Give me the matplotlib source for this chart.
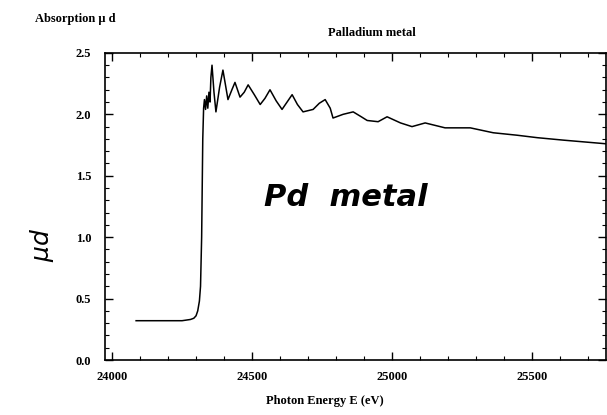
import matplotlib
matplotlib.use('Agg')
import matplotlib.pyplot as plt
from matplotlib.ticker import MultipleLocator

# Pd K-edge absorption
energy = [24086, 24150, 24200, 24250, 24280, 24292, 24300, 24306, 24312, 24316,
          24320, 24324, 24327, 24330, 24334, 24338, 24342, 24346, 24350, 24353,
          24357, 24364, 24371, 24384, 24396, 24405, 24414, 24428, 24439, 24448,
          24457, 24472, 24486, 24508, 24529, 24546, 24564, 24586, 24607, 24625,
          24643, 24662, 24682, 24700, 24718, 24740, 24761, 24779, 24789, 24825,
          24861, 24890, 24911, 24950, 24982, 25030, 25071, 25118, 25189, 25279,
          25361, 25446, 25518, 25611, 25765]
mu_d = [0.32, 0.32, 0.32, 0.32, 0.33, 0.34, 0.36, 0.40, 0.48, 0.60,
        1.00, 1.80, 2.05, 2.12, 2.04, 2.15, 2.05, 2.18, 2.10, 2.30,
        2.40, 2.18, 2.02, 2.22, 2.36, 2.24, 2.12, 2.20, 2.26, 2.20,
        2.14, 2.18, 2.24, 2.16, 2.08, 2.13, 2.20, 2.11, 2.04, 2.10,
        2.16, 2.08, 2.02, 2.03, 2.04, 2.09, 2.12, 2.05, 1.97, 2.00,
        2.02, 1.98, 1.95, 1.94, 1.98, 1.93, 1.90, 1.93, 1.89, 1.89,
        1.85, 1.83, 1.81, 1.79, 1.76]

xticks = [24000, 24500, 25000, 25500]
yticks = [0.0, 0.5, 1.0, 1.5, 2.0, 2.5]

serif = 'Liberation Serif'

fig = plt.figure(figsize=(6.07, 4.15), dpi=100)
ax = fig.add_axes([0.173, 0.1325, 0.826, 0.74])
ax.plot(energy, mu_d, color='black', lw=1.1)

ax.set_xlim(23975, 25765)
ax.set_ylim(0, 2.5)
ax.set_xticks(xticks)
ax.set_yticks(yticks)
ax.set_xticklabels([str(t) for t in xticks], family=serif, fontsize=9, fontweight='bold')
ax.set_yticklabels(['%.1f' % t for t in yticks], family=serif, fontsize=9, fontweight='bold')
ax.xaxis.set_minor_locator(MultipleLocator(100))
ax.yaxis.set_minor_locator(MultipleLocator(0.1))
ax.tick_params(which='both', direction='in', top=True, right=True)
ax.tick_params(which='major', length=6, width=1)
ax.tick_params(which='minor', length=3, width=0.8)
ax.tick_params(axis='x', pad=8)
ax.tick_params(axis='y', pad=10)
for s in ax.spines.values():
    s.set_linewidth(1.2)

fig.text(0.058, 0.955, 'Absorption \u03bc d', family=serif, fontsize=9, fontweight='bold',
         va='center')
fig.text(0.613, 0.92, 'Palladium metal', family=serif, fontsize=9, fontweight='bold',
         ha='center', va='center')
fig.text(0.535, 0.034, 'Photon Energy E (eV)', family=serif, fontsize=9, fontweight='bold',
         ha='center', va='center')

# handwritten notes
fig.text(0.57, 0.525, 'Pd  metal', fontsize=22, style='italic', fontweight='bold',
         ha='center', va='center')
fig.text(0.07, 0.41, r'$\mu d$', fontsize=18, rotation=90, ha='center', va='center')

fig.savefig('out.png', dpi=100)
